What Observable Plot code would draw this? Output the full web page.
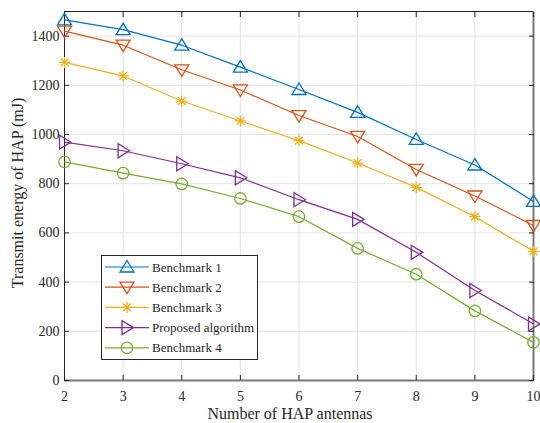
<!DOCTYPE html>
<html>
<head>
<meta charset="utf-8">
<script src="https://cdn.jsdelivr.net/npm/d3@7"></script>
<script src="https://cdn.jsdelivr.net/npm/@observablehq/plot@0.6"></script>
<style>
  html, body { margin: 0; padding: 0; background: #fff; }
  #chart svg { display: block; }
</style>
</head>
<body>
<div id="chart"></div>
<script>
// ---- data ----
const antennas = [2, 3, 4, 5, 6, 7, 8, 9, 10];
const seriesNames = ["Benchmark 1", "Benchmark 2", "Benchmark 3", "Proposed algorithm", "Benchmark 4"];
const benchmark1 = [1466, 1426, 1363, 1274, 1183, 1090, 980, 876, 728];
const benchmark2 = [1420, 1363, 1263, 1181, 1077, 992, 858, 750, 630];
const benchmark3 = [1293, 1238, 1136, 1055, 975, 884, 785, 666, 525];
const proposed   = [969, 934, 881, 824, 735, 655, 521, 366, 230];
const benchmark4 = [889, 843, 799, 740, 666, 537, 432, 283, 155];
const xTicks = [2, 3, 4, 5, 6, 7, 8, 9, 10];
const yTicks = [0, 200, 400, 600, 800, 1000, 1200, 1400];
const colors = ["#0072BD", "#D95319", "#EDB120", "#7E2F8E", "#77AC30"];

// ---- custom MATLAB-like marker symbols ----
const R = s => Math.sqrt(s / Math.PI);
const triUp = {draw(c, s) { const r = R(s); c.moveTo(0, -r); c.lineTo(r * 1.08, r * 0.77); c.lineTo(-r * 1.08, r * 0.77); c.closePath(); }};
const triDown = {draw(c, s) { const r = R(s); c.moveTo(0, r); c.lineTo(r * 1.08, -r * 0.77); c.lineTo(-r * 1.08, -r * 0.77); c.closePath(); }};
const triRight = {draw(c, s) { const r = R(s); c.moveTo(r, 0); c.lineTo(-r * 0.77, r * 1.08); c.lineTo(-r * 0.77, -r * 1.08); c.closePath(); }};
const star = {draw(c, s) { const r = R(s) * 0.85; for (let k = 0; k < 4; k++) { const a = k * Math.PI / 4; c.moveTo(r * Math.cos(a), r * Math.sin(a)); c.lineTo(-r * Math.cos(a), -r * Math.sin(a)); } }};
const circ = {draw(c, s) { const r = R(s) * 0.88; c.moveTo(r, 0); c.arc(0, 0, r, 0, 2 * Math.PI); c.closePath(); }};
const symbols = [triUp, triDown, star, triRight, circ];

const allValues = [benchmark1, benchmark2, benchmark3, proposed, benchmark4];
const rows = [];
seriesNames.forEach((name, si) => {
  antennas.forEach((x, i) => rows.push({series: name, si, x, y: allValues[si][i]}));
});

const font = "Liberation Serif, Times New Roman, serif";
const axisColor = "#262626";
const noText = () => "";

const marks = [
  Plot.gridX(xTicks, {stroke: "#e3e3e3", strokeOpacity: 1}),
  Plot.gridY(yTicks, {stroke: "#e3e3e3", strokeOpacity: 1}),
  // frame
  Plot.ruleX([2], {stroke: axisColor, strokeWidth: 1}),
  Plot.ruleY([1500], {stroke: axisColor, strokeWidth: 1}),
  Plot.ruleY([0], {stroke: "#7a7a7a", strokeWidth: 2}),
  Plot.ruleX([10], {stroke: "#7a7a7a", strokeWidth: 2}),
  // inward ticks
  Plot.axisY(yTicks, {anchor: "left", tickSize: 5, dx: 5, tickFormat: noText, label: null, stroke: axisColor}),
  Plot.axisY(yTicks, {anchor: "right", tickSize: 5, dx: -5, tickFormat: noText, label: null, stroke: axisColor}),
  Plot.axisX(xTicks, {anchor: "bottom", tickSize: 5, dy: -5, tickFormat: noText, label: null, stroke: axisColor}),
  Plot.axisX(xTicks, {anchor: "top", tickSize: 5, dy: 5, tickFormat: noText, label: null, stroke: axisColor}),
  // tick labels
  Plot.axisY(yTicks, {anchor: "left", tickSize: 0, tickPadding: 5, tickFormat: d => String(d), label: null, fontSize: 14, fill: axisColor, fontFamily: font}),
  Plot.axisX(xTicks, {anchor: "bottom", tickSize: 0, tickPadding: 11, tickFormat: d => String(d), label: null, fontSize: 14, fill: axisColor, fontFamily: font}),
  // axis titles
  Plot.text(["Number of HAP antennas"], {frameAnchor: "bottom", lineAnchor: "middle", textAnchor: "middle", dy: 33, dx: -9, fontSize: 16, fill: axisColor, fontFamily: font, text: d => d}),
  Plot.text(["Transmit energy of HAP (mJ)"], {frameAnchor: "left", lineAnchor: "middle", textAnchor: "middle", rotate: -90, dx: -47, dy: -3, fontSize: 16, fill: axisColor, fontFamily: font, text: d => d})
];

seriesNames.forEach((name, si) => {
  const data = rows.filter(d => d.si === si);
  marks.push(Plot.line(data, {x: "x", y: "y", stroke: colors[si], strokeWidth: 1.2}));
  marks.push(Plot.dot(data, {x: "x", y: "y", symbol: () => symbols[si], r: 6.5, stroke: colors[si], strokeWidth: 1.3, fill: "none"}));
});

const chart = Plot.plot({
  width: 540,
  height: 423,
  marginLeft: 64,
  marginRight: 7,
  marginTop: 11,
  marginBottom: 43,
  style: {fontFamily: font, background: "#fff", color: axisColor},
  x: {domain: [2, 10], axis: null},
  y: {domain: [0, 1500], axis: null},
  symbol: {type: "identity"},
  marks
});
document.getElementById("chart").appendChild(chart);

// ---- legend (inside the plot area) ----
const svg = d3.select(chart);
const lg = svg.append("g").attr("font-family", font).attr("font-size", 13).attr("text-anchor", "start");
const lx = 101, ly = 255, lw = 156, lh = 104;
lg.append("rect").attr("x", lx + 0.5).attr("y", ly + 0.5).attr("width", lw).attr("height", lh)
  .attr("fill", "#fff").attr("stroke", axisColor).attr("stroke-width", 1);
seriesNames.forEach((name, si) => {
  const cy = ly + 12 + si * 20.2;
  lg.append("line").attr("x1", lx + 4).attr("x2", lx + 48).attr("y1", cy).attr("y2", cy)
    .attr("stroke", colors[si]).attr("stroke-width", 1.2);
  lg.append("path").attr("transform", `translate(${lx + 26},${cy})`)
    .attr("d", d3.symbol(symbols[si], 6.5 * 6.5 * Math.PI)())
    .attr("fill", "none").attr("stroke", colors[si]).attr("stroke-width", 1.3);
  lg.append("text").attr("x", lx + 51).attr("y", cy).attr("dy", "0.35em")
    .attr("text-anchor", "start").attr("fill", axisColor).text(name);
});
</script>
</body>
</html>
